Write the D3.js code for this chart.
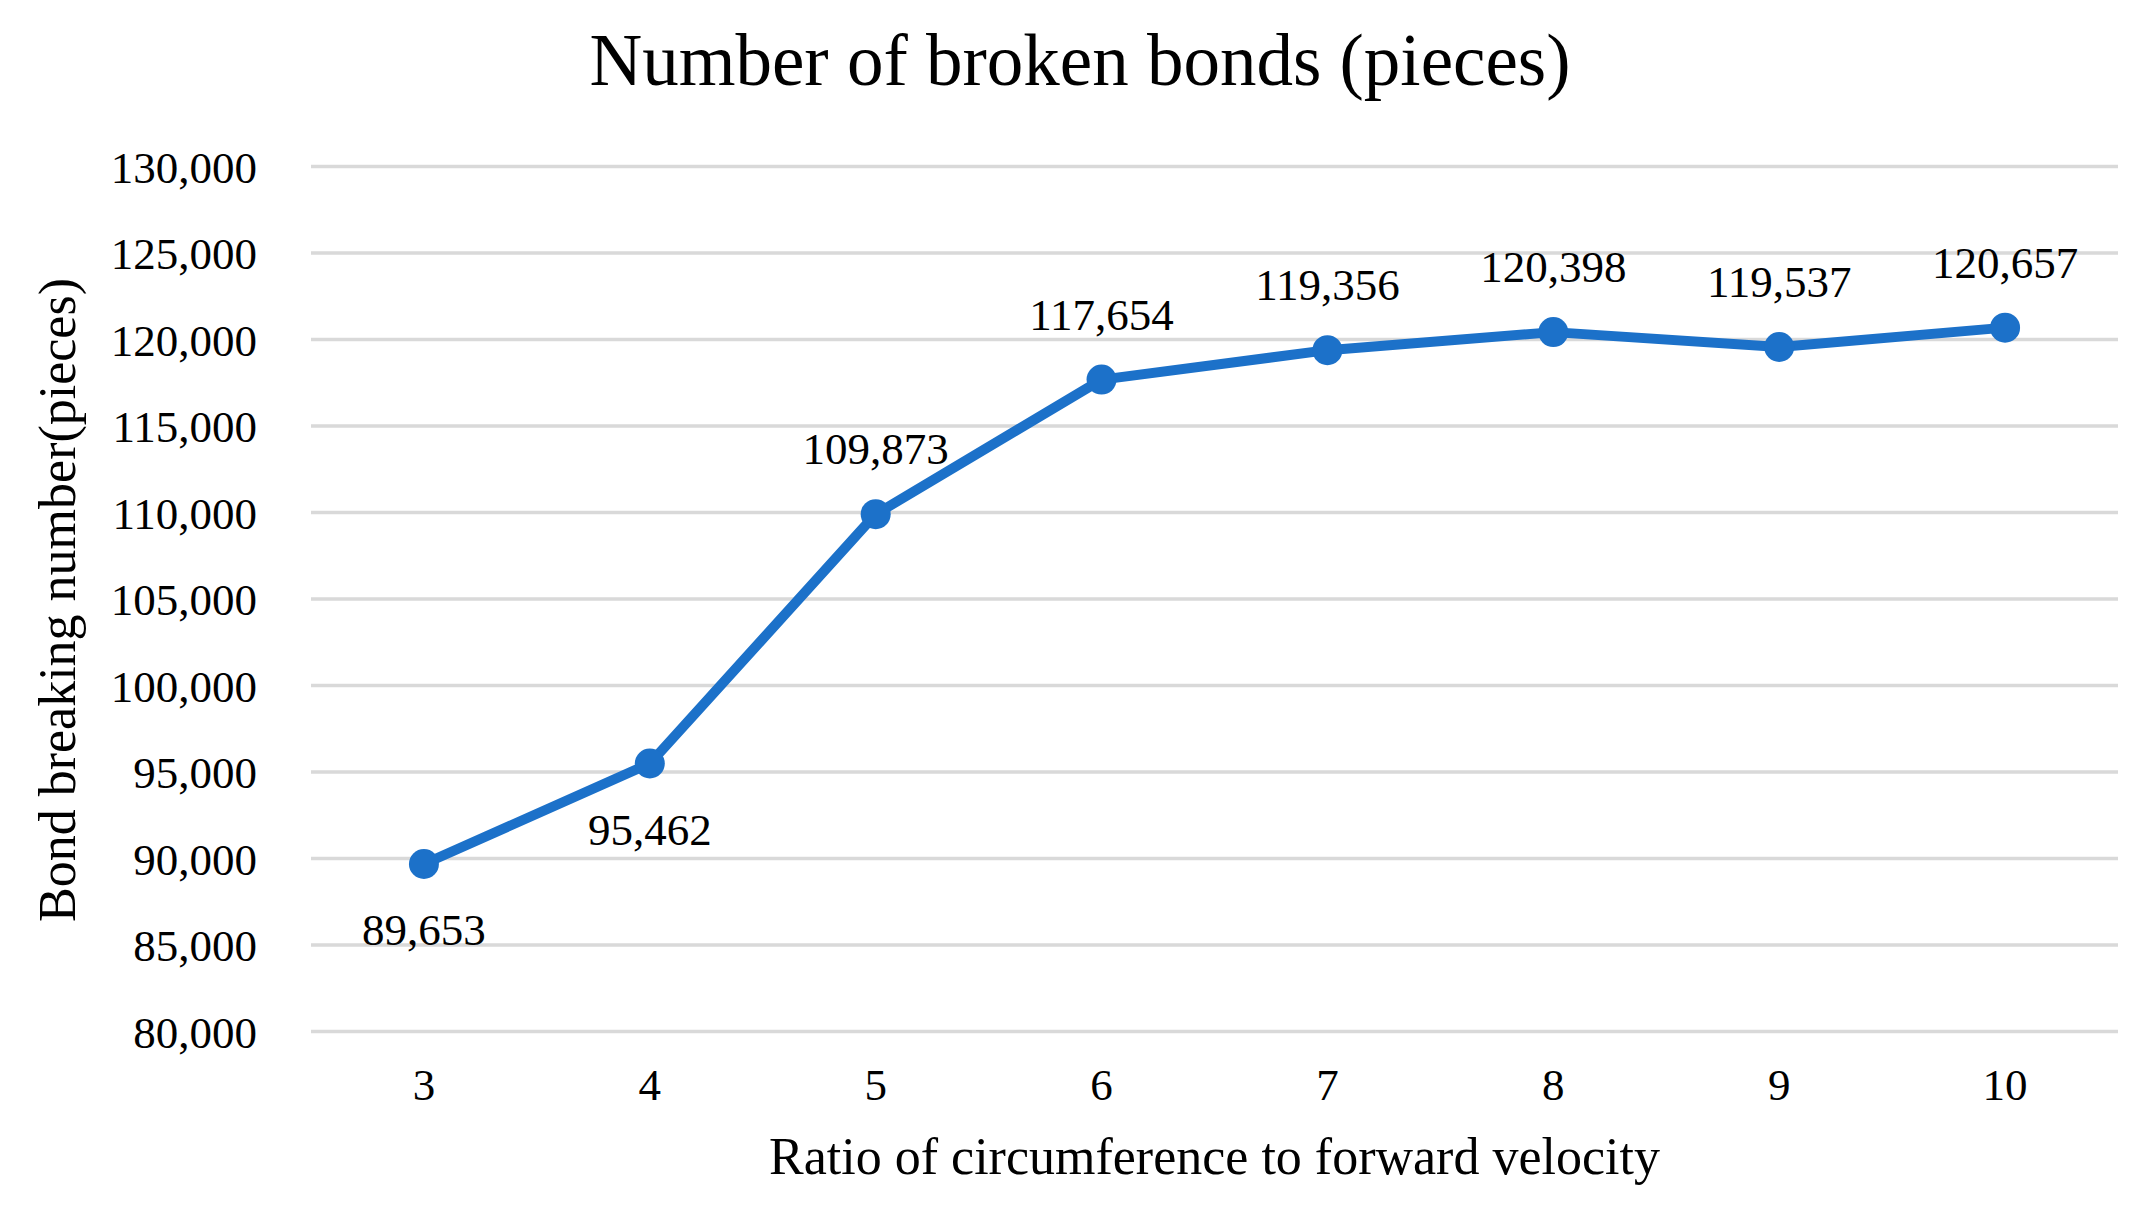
<!DOCTYPE html>
<html lang="en">
<head>
  <meta charset="UTF-8">
  <title>Number of broken bonds</title>
  <style>
    body { margin: 0; background: #fff; }
    svg { display: block; }
    text { font-family: "Liberation Serif", "Times New Roman", serif; fill: #000; }
    .grid line { stroke: #d9d9d9; stroke-width: 3.5; }
    .grid path { display: none; }
    .axis path, .axis line { display: none; }
  </style>
</head>
<body>
  <svg width="2153" height="1211"></svg>
  <script src="https://cdn.jsdelivr.net/npm/d3@7"></script>
  <script>
    var categories = ["3", "4", "5", "6", "7", "8", "9", "10"];
    var values = [89653, 95462, 109873, 117654, 119356, 120398, 119537, 120657];
    var labelBelow = [true, true, false, false, false, false, false, false];
    var yTicks = [80000, 85000, 90000, 95000, 100000, 105000, 110000, 115000, 120000, 125000, 130000];

    var svg = d3.select("svg"),
      margin = {top: 166, right: 35, bottom: 180, left: 311},
      width = +svg.attr("width") - margin.left - margin.right,
      height = +svg.attr("height") - margin.top - margin.bottom;

    var g = svg.append("g")
      .attr("transform", "translate(" + margin.left + "," + margin.top + ")");

    var x = d3.scaleBand().domain(categories).range([0, width]).padding(0),
      y = d3.scaleLinear().domain([80000, 130000]).range([height, 0]);

    var fmt = d3.format(",");

    // gridlines
    g.append("g")
      .attr("class", "grid")
      .call(d3.axisLeft(y).tickValues(yTicks).tickSize(-width).tickFormat(""));

    // y axis labels
    g.append("g")
      .attr("class", "axis axis--y")
      .call(d3.axisLeft(y).tickValues(yTicks).tickSize(0).tickPadding(54).tickFormat(fmt))
      .selectAll("text")
      .style("font-size", "45px")
      .attr("dy", "0.36em");

    // x axis labels
    g.append("g")
      .attr("class", "axis axis--x")
      .attr("transform", "translate(0," + height + ")")
      .call(d3.axisBottom(x).tickSize(0).tickPadding(0))
      .selectAll("text")
      .style("font-size", "45px")
      .attr("dy", null)
      .attr("y", 69);

    // line
    var line = d3.line()
      .x(function(d, i) { return x(categories[i]) + x.bandwidth() / 2; })
      .y(function(d) { return y(d); });

    g.append("path")
      .datum(values)
      .attr("fill", "none")
      .attr("stroke", "#1c71c9")
      .attr("stroke-width", 10)
      .attr("stroke-linejoin", "round")
      .attr("d", line);

    g.selectAll(".dot")
      .data(values)
      .enter()
      .append("circle")
      .attr("class", "dot")
      .attr("cx", function(d, i) { return x(categories[i]) + x.bandwidth() / 2; })
      .attr("cy", function(d) { return y(d); })
      .attr("r", 15)
      .attr("fill", "#1c71c9");

    // data labels
    g.selectAll(".label")
      .data(values)
      .enter()
      .append("text")
      .attr("class", "label")
      .attr("x", function(d, i) { return x(categories[i]) + x.bandwidth() / 2; })
      .attr("y", function(d, i) { return y(d) + (labelBelow[i] ? 81 : -50); })
      .attr("text-anchor", "middle")
      .style("font-size", "45px")
      .text(function(d) { return fmt(d); });

    // title
    svg.append("text")
      .attr("x", 1080)
      .attr("y", 85)
      .attr("text-anchor", "middle")
      .style("font-size", "73px")
      .text("Number of broken bonds (pieces)");

    // axis titles
    svg.append("text")
      .attr("x", margin.left + width / 2)
      .attr("y", 1174)
      .attr("text-anchor", "middle")
      .style("font-size", "52px")
      .text("Ratio of circumference to forward velocity");

    svg.append("text")
      .attr("transform", "translate(75,600) rotate(-90)")
      .attr("text-anchor", "middle")
      .style("font-size", "52px")
      .text("Bond breaking number(pieces)");
  </script>
</body>
</html>
